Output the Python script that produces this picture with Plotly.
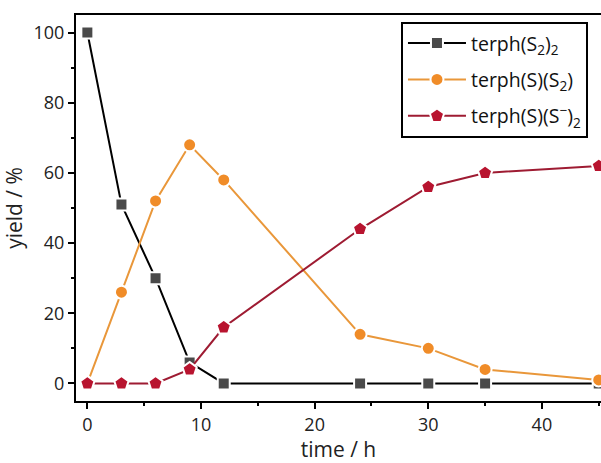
import plotly.graph_objects as go

time_h = [0, 3, 6, 9, 12, 24, 30, 35, 45]
terph_S2_2 = [100, 51, 30, 6, 0, 0, 0, 0, 0]
terph_S_S2 = [0, 26, 52, 68, 58, 14, 10, 4, 1]
terph_S_Sm_2 = [0, 0, 0, 4, 16, 44, 56, 60, 62]

names = ["terph(S<sub>2</sub>)<sub>2</sub>",
         "terph(S)(S<sub>2</sub>)",
         "terph(S)(S<sup>\u2212</sup>)<sub>2</sub>"]

fig = go.Figure()
fig.add_trace(go.Scatter(x=time_h, y=terph_S2_2, mode="lines+markers", name=names[0],
                         legendgroup="a",
                         line=dict(color="#000000", width=2),
                         marker=dict(symbol="square", size=12, color="#4a4a4a",
                                     line=dict(color="white", width=2))))
fig.add_trace(go.Scatter(x=time_h, y=terph_S_S2, mode="lines+markers", name=names[1],
                         legendgroup="b",
                         line=dict(color="#E9973A", width=2),
                         marker=dict(symbol="circle", size=13, color="#F08C28",
                                     line=dict(color="white", width=2))))
fig.add_trace(go.Scatter(x=time_h, y=terph_S_Sm_2, mode="lines+markers", name=names[2],
                         legendgroup="c",
                         line=dict(color="#9E1B32", width=2),
                         marker=dict(symbol="pentagon", size=15, color="#B8142F",
                                     line=dict(color="white", width=2))))

font = "Open Sans, Liberation Sans, sans-serif"
fig.update_layout(
    width=601, height=463,
    margin=dict(l=76, r=0, t=15, b=62),
    paper_bgcolor="white", plot_bgcolor="white",
    font=dict(family=font, size=18, color="#222"),
    showlegend=True,
    legend=dict(x=0.619, y=0.982, xanchor="left", yanchor="top",
                bordercolor="black", borderwidth=2, bgcolor="white",
                font=dict(size=19.5, family=font, color="#111"),
                itemwidth=58, tracegroupgap=8),
    xaxis=dict(range=[-1, 45.2], showgrid=False, zeroline=False,
               showline=True, linecolor="black", linewidth=2, mirror=True,
               ticks="outside", ticklen=6, tickwidth=2, tickcolor="black",
               tickvals=[0, 10, 20, 30, 40],
               minor=dict(tickvals=[5, 15, 25, 35, 45], ticklen=3, tickwidth=2,
                          tickcolor="black", ticks="outside"),
               tickfont=dict(size=18),
               title=dict(text="time / h", font=dict(size=21), standoff=2)),
    yaxis=dict(range=[-5, 105], showgrid=False, zeroline=False,
               showline=True, linecolor="black", linewidth=2, mirror=False,
               ticks="outside", ticklen=6, tickwidth=2, tickcolor="black",
               tickvals=[0, 20, 40, 60, 80, 100],
               minor=dict(tickvals=[10, 30, 50, 70, 90], ticklen=3, tickwidth=2,
                          tickcolor="black", ticks="outside"),
               tickfont=dict(size=18),
               title=dict(text="yield / %", font=dict(size=21), standoff=6)),
)

fig.write_html("out.html")
